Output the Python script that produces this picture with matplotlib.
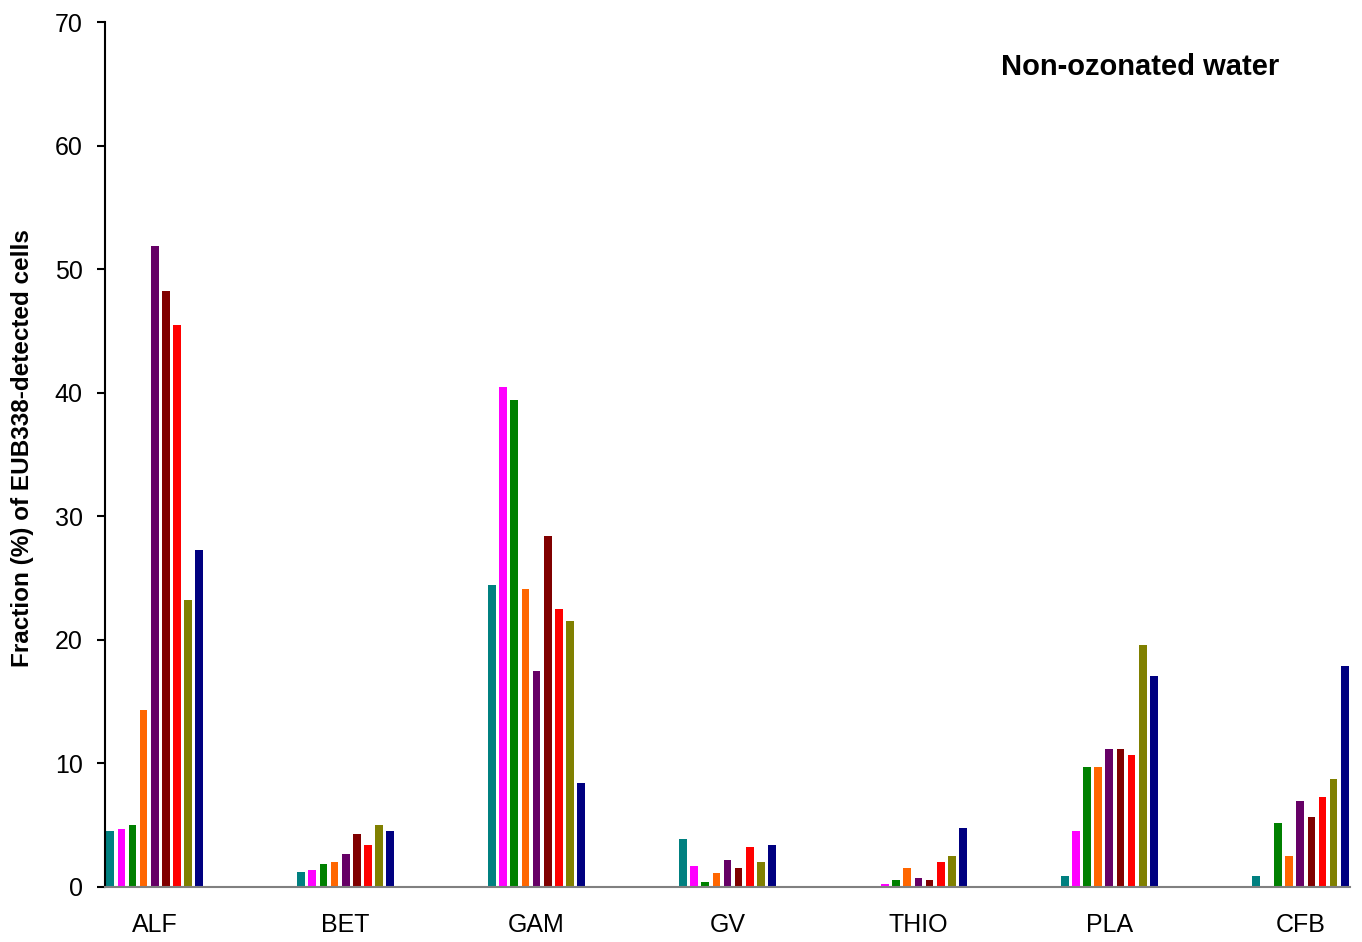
import numpy as np
import matplotlib
matplotlib.use("Agg")
import matplotlib.pyplot as plt

plt.rcParams['font.family'] = ['Liberation Sans', 'DejaVu Sans']

categories = ['ALF', 'BET', 'GAM', 'GV', 'THIO', 'PLA', 'CFB']

# one list per sample, values per category (% of EUB338-detected cells)
s1 = [4.5, 1.2, 24.4, 3.9, 0.0, 0.9, 0.9]
s2 = [4.7, 1.4, 40.5, 1.7, 0.25, 4.5, 0.0]
s3 = [5.0, 1.9, 39.4, 0.4, 0.6, 9.7, 5.15]
s4 = [14.3, 2.05, 24.1, 1.1, 1.55, 9.7, 2.5]
s5 = [51.9, 2.7, 17.5, 2.2, 0.75, 11.2, 6.95]
s6 = [48.2, 4.3, 28.4, 1.5, 0.6, 11.2, 5.65]
s7 = [45.5, 3.4, 22.5, 3.2, 2.0, 10.7, 7.3]
s8 = [23.2, 5.0, 21.5, 2.05, 2.5, 19.6, 8.75]
s9 = [27.3, 4.5, 8.4, 3.4, 4.8, 17.1, 17.9]

series = [s1, s2, s3, s4, s5, s6, s7, s8, s9]
colors = ['#008080', '#FF00FF', '#008000', '#FF6600', '#660066',
          '#800000', '#FF0000', '#808000', '#000080']

fig = plt.figure(figsize=(13.62, 9.42), dpi=100)
ax = fig.add_axes([105 / 1362, 1 - 887 / 942, (1350 - 105) / 1362, (887 - 22) / 942])

x = np.arange(len(categories))
pitch = 0.058
width = 0.041
for i, (vals, c) in enumerate(zip(series, colors)):
    ax.bar(x + (i - 4) * pitch, vals, width=width, color=c, linewidth=0)

ax.set_xlim(-0.26, 6.26)
ax.set_ylim(0, 70)
ax.set_yticks(range(0, 71, 10))
ax.set_xticks(x)
ax.set_xticklabels(categories)

ax.spines['top'].set_visible(False)
ax.spines['right'].set_visible(False)
ax.spines['left'].set_color('black')
ax.spines['left'].set_linewidth(1.5)
ax.spines['bottom'].set_color('#808080')
ax.spines['bottom'].set_linewidth(1.5)

ax.tick_params(axis='y', labelsize=18, length=6, width=1.5, pad=10, direction='out')
ax.tick_params(axis='x', labelsize=18, length=0, pad=19)

ax.set_ylabel('Fraction (%) of EUB338-detected cells', fontsize=17.5,
              fontweight='bold')
ax.yaxis.set_label_coords(-0.057, 0.507)

fig.text(1001 / 1362, 1 - 67 / 942, 'Non-ozonated water', fontsize=21,
         fontweight='bold', ha='left', va='center')

fig.savefig('out.png', dpi=100)
